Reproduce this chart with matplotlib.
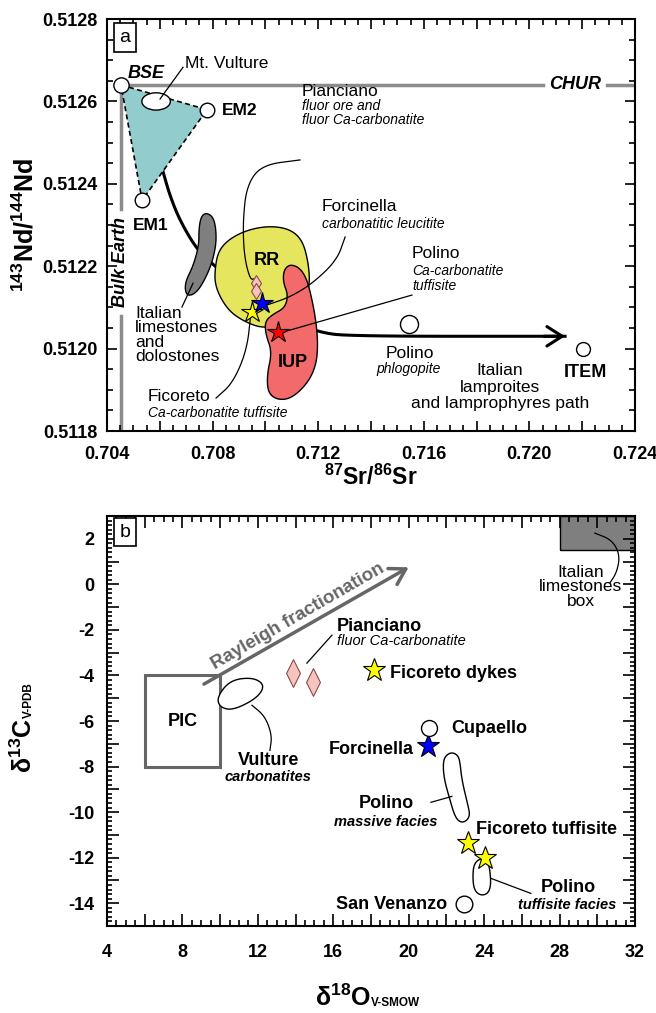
import numpy as np
import matplotlib.pyplot as plt
from matplotlib.patches import Polygon, Rectangle, Ellipse
from matplotlib.ticker import MultipleLocator

plt.rcParams['font.family'] = ['Liberation Sans', 'DejaVu Sans']
plt.rcParams['mathtext.fontset'] = 'custom'
plt.rcParams['mathtext.rm'] = 'Liberation Sans'
plt.rcParams['mathtext.bf'] = 'Liberation Sans:bold'
plt.rcParams['mathtext.it'] = 'Liberation Sans:italic'

# ---------------- (a) Sr-Nd isotopes ----------------
bse = (0.70453, 0.51264)
em1 = (0.70533, 0.51236)
em2 = (0.70779, 0.51258)
chur_nd = 0.51264
bulk_earth_sr = 0.70453
mt_vulture = (0.70586, 0.51260)
polino_phl = (0.71544, 0.51206)
item = (0.72203, 0.51200)

pianciano_sr = [0.70964, 0.70964]
pianciano_nd = [0.51216, 0.51214]
ficoreto_a = (0.70949, 0.51209)
forcinella_a = (0.70987, 0.51211)
polino_a = (0.71048, 0.51204)

limest_sr = [0.70775, 0.70802, 0.70813, 0.70813, 0.70794, 0.70756, 0.70726,
             0.70699, 0.70695, 0.70726, 0.70748, 0.70748, 0.70756]
limest_nd = [0.51233, 0.51232, 0.51229, 0.51225, 0.51220, 0.51215, 0.51213,
             0.51213, 0.51216, 0.51220, 0.51225, 0.51229, 0.51232]

rr_sr = [0.70809, 0.70820, 0.70858, 0.70930, 0.71017, 0.71093, 0.71139, 0.71161,
         0.71169, 0.71150, 0.71112, 0.71048, 0.70987, 0.70923, 0.70866, 0.70828, 0.70809]
rr_nd = [0.512191, 0.512234, 0.512264, 0.512288, 0.512298, 0.512290, 0.512264, 0.512215,
         0.512159, 0.512118, 0.512082, 0.512057, 0.512050, 0.512065, 0.512089, 0.512125, 0.512159]

iup_sr = [0.71093, 0.71131, 0.71158, 0.71177, 0.71192, 0.71199, 0.71192, 0.71161, 0.71101,
          0.71048, 0.71010, 0.71006, 0.71025, 0.71002, 0.70998, 0.71025, 0.71074, 0.71086,
          0.71067, 0.71070]
iup_nd = [0.512205, 0.512196, 0.512167, 0.512118, 0.512065, 0.512009, 0.511960, 0.511917,
          0.511880, 0.511875, 0.511892, 0.511936, 0.511992, 0.512033, 0.512065, 0.512082,
          0.512099, 0.512130, 0.512162, 0.512191]

# mantle -> lamproite trend
mix_sr = [0.70597, 0.70612, 0.70639, 0.70677, 0.70741, 0.70809, 0.70904, 0.70998,
          0.71093, 0.71199, 0.71320, 0.72135]
mix_nd = [0.51250, 0.51243, 0.51237, 0.51231, 0.51224, 0.51220, 0.51215, 0.51212,
          0.51207, 0.51204, 0.51203, 0.51203]

sr_ticks = [0.704, 0.706, 0.708, 0.710, 0.712, 0.714, 0.716, 0.718, 0.720, 0.722, 0.724]
nd_ticks = [0.5118, 0.5120, 0.5122, 0.5124, 0.5126, 0.5128]

# ---------------- (b) C-O isotopes ----------------
pic_o = [6, 10]
pic_c = [-8, -4]
limebox_o = [28, 32]
limebox_c = [1.5, 3]
rayleigh_o = [9.14, 20.0]
rayleigh_c = [-4.38, 0.75]

pianciano_o = [13.86, 14.92]
pianciano_c = [-3.9, -4.3]
ficoreto_dyke = (18.16, -3.77)
cupaello = (21.1, -6.32)
forcinella_b = (21.0, -7.1)
fic_tuff_o = [23.14, 24.04]
fic_tuff_c = [-11.37, -12.03]
san_venanzo = (22.93, -14.05)

vulture_o = [9.83, 10.52, 11.74, 12.38, 11.95, 10.68, 9.99]
vulture_c = [-4.96, -4.21, -4.08, -4.43, -5.0, -5.53, -5.40]
pol_mass_o = [21.82, 21.97, 22.29, 22.61, 22.72, 22.82, 23.14, 23.25, 23.04, 22.72,
              22.45, 22.19, 21.87]
pol_mass_c = [-7.81, -7.51, -7.37, -7.51, -7.81, -8.60, -9.70, -10.14, -10.41, -10.45,
              -10.19, -9.48, -8.52]
pol_tuff_o = [23.41, 23.57, 23.88, 24.20, 24.31, 24.36, 24.20, 23.88, 23.57, 23.41]
pol_tuff_c = [-12.47, -12.16, -12.03, -12.21, -12.56, -13.22, -13.57, -13.66, -13.53, -13.18]

o_ticks = list(range(4, 33, 2))
c_ticks = list(range(-15, 4))


def chaikin(xs, ys, n=3, closed=True):
    pts = np.column_stack([xs, ys]).astype(float)
    for _ in range(n):
        if closed:
            p0, p1 = pts, np.roll(pts, -1, axis=0)
        else:
            p0, p1 = pts[:-1], pts[1:]
        q = 0.75 * p0 + 0.25 * p1
        r = 0.25 * p0 + 0.75 * p1
        new = np.empty((2 * len(p0), 2))
        new[0::2] = q
        new[1::2] = r
        pts = new if closed else np.vstack([pts[0], new, pts[-1]])
    return pts


def blob(ax, xs, ys, fc, ec='black', lw=1.0, z=2):
    ax.add_patch(Polygon(chaikin(xs, ys), closed=True, fc=fc, ec=ec, lw=lw, zorder=z))


def leader(ax, xs, ys):
    pts = chaikin(xs, ys, closed=False) if len(xs) > 2 else np.column_stack([xs, ys])
    ax.plot(pts[:, 0], pts[:, 1], color='black', lw=0.9, zorder=4)


def style_axes(ax, major=7, minor=4):
    for s in ax.spines.values():
        s.set_linewidth(1.5)
    ax.tick_params(which='both', direction='in', top=True, right=True, width=1.2,
                   colors='black')
    ax.tick_params(which='major', length=major)
    ax.tick_params(which='minor', length=minor)


fig = plt.figure(figsize=(6.56, 10.13), dpi=100)

# ======================= panel a =======================
ax = fig.add_axes([0.1631, 0.5745, 0.8049, 0.4067])
ax.set_xlim(0.704, 0.724)
ax.set_ylim(0.5118, 0.5128)
style_axes(ax, 7.5, 4)
ax.set_xticks(sr_ticks)
ax.set_xticklabels([f'{v:.3f}' if i % 2 == 0 else '' for i, v in enumerate(sr_ticks)],
                   fontsize=13, fontweight='bold')
ax.xaxis.set_minor_locator(MultipleLocator(0.0005))
ax.set_yticks(nd_ticks)
ax.set_yticklabels([f'{v:.4f}' for v in nd_ticks], fontsize=13, fontweight='bold')
ax.yaxis.set_minor_locator(MultipleLocator(0.00005))
ax.tick_params(axis='x', which='major', pad=11)
ax.tick_params(axis='y', which='major', pad=7)

# reference lines
ax.plot([bse[0], 0.72052], [chur_nd, chur_nd], color='#8c8c8c', lw=2.5, zorder=1)
ax.plot([0.72294, 0.724], [chur_nd, chur_nd], color='#8c8c8c', lw=2.5, zorder=1)
ax.text(0.72173, chur_nd, 'CHUR', ha='center', va='center', fontsize=13,
        fontweight='bold', fontstyle='italic')
ax.plot([bulk_earth_sr, bulk_earth_sr], [bse[1], 0.51234], color='#8c8c8c', lw=2.5, zorder=1)
ax.plot([bulk_earth_sr, bulk_earth_sr], [0.51208, 0.5118], color='#8c8c8c', lw=2.5, zorder=1)
ax.text(bulk_earth_sr, 0.51221, 'Bulk Earth', rotation=90, ha='center', va='center',
        fontsize=13, fontweight='bold', fontstyle='italic')

# mantle triangle
tri = [bse, em2, em1]
ax.add_patch(Polygon(tri, closed=True, fc='#92cccc', ec='none', zorder=1.5))
ax.add_patch(Polygon(tri, closed=True, fill=False, ec='black', lw=1.2, ls=(0, (3, 2)),
                     zorder=1.6))
ax.add_patch(Ellipse(mt_vulture, 0.00108, 0.000042, fc='white', ec='black', lw=1.0, zorder=3))

# trend curve
ax.plot(mix_sr[:2], mix_nd[:2], color='black', lw=2.2, ls=(0, (2.2, 1.6)), zorder=1.2)
mp = chaikin(mix_sr[1:], mix_nd[1:], closed=False)
ax.plot(mp[:, 0], mp[:, 1], color='black', lw=2.2, zorder=1.2)
ax.annotate('', xy=(mix_sr[-1], mix_nd[-1]), xytext=(mix_sr[-1] - 0.0008, mix_nd[-1]),
            arrowprops=dict(arrowstyle='->,head_length=0.55,head_width=0.35', lw=2.2,
                            color='black', mutation_scale=20, shrinkA=0, shrinkB=0),
            zorder=3)

# fields
blob(ax, limest_sr, limest_nd, '#7f7f7f', lw=1.0)
blob(ax, rr_sr, rr_nd, '#e6e65e', lw=1.0)
blob(ax, iup_sr, iup_nd, '#f26a6a', lw=1.0, z=2.2)
ax.text(0.71006, 0.512215, 'RR', ha='center', va='center', fontsize=13, fontweight='bold', zorder=5)
ax.text(0.71105, 0.511967, 'IUP', ha='center', va='center', fontsize=13, fontweight='bold', zorder=5)

# end-member circles
for p, ms in [(bse, 11), (em1, 10.5), (em2, 10.5), (polino_phl, 13), (item, 10)]:
    ax.plot(*p, 'o', ms=ms, mfc='white', mec='black', mew=1.0, zorder=5)

# samples
ax.plot(pianciano_sr, pianciano_nd, 'd', ms=8, mfc='#f5c4be', mec='#8a4a44', mew=0.8, zorder=6)
ax.plot(*ficoreto_a, '*', ms=16, mfc='#ffff00', mec='black', mew=0.8, zorder=6)
ax.plot(*forcinella_a, '*', ms=16, mfc='#0000ff', mec='black', mew=0.8, zorder=6)
ax.plot(*polino_a, '*', ms=16, mfc='#ff0000', mec='black', mew=0.8, zorder=6)

# leaders
leader(ax, [0.70688, 0.70601], [0.512683, 0.512606])
leader(ax, [0.71131, 0.70987, 0.70930, 0.70915, 0.70919, 0.70942, 0.70961],
       [0.512458, 0.512446, 0.512397, 0.512312, 0.512227, 0.512167, 0.51217])
leader(ax, [0.71302, 0.71271, 0.71180, 0.71093, 0.71006],
       [0.512271, 0.512215, 0.512159, 0.512125, 0.512106])
leader(ax, [0.71555, 0.71055], [0.512130, 0.512038])
leader(ax, [0.70813, 0.70877, 0.70930, 0.70945], [0.511880, 0.511917, 0.511997, 0.512086])
leader(ax, [0.70684, 0.70726], [0.512101, 0.512159])

# labels
ax.text(0.70480, 0.512667, 'BSE', fontsize=13, fontweight='bold', fontstyle='italic', va='center')
ax.text(0.70695, 0.512693, 'Mt. Vulture', fontsize=12.5, va='center')
ax.text(0.70836, 0.512579, 'EM2', fontsize=12.5, fontweight='bold', va='center')
ax.text(0.70498, 0.512298, 'EM1', fontsize=12.5, fontweight='bold', va='center')
ax.text(0.71139, 0.512625, 'Pianciano', fontsize=12.5, va='center')
ax.text(0.71139, 0.512589, 'fluor ore and', fontsize=10, fontstyle='italic', va='center')
ax.text(0.71139, 0.512555, 'fluor Ca-carbonatite', fontsize=10, fontstyle='italic', va='center')
ax.text(0.71214, 0.512344, 'Forcinella', fontsize=12.5, va='center')
ax.text(0.71214, 0.512302, 'carbonatitic leucitite', fontsize=10, fontstyle='italic', va='center')
ax.text(0.71555, 0.512230, 'Polino', fontsize=12.5, va='center')
ax.text(0.71555, 0.512188, 'Ca-carbonatite', fontsize=10, fontstyle='italic', va='center')
ax.text(0.71555, 0.512152, 'tuffisite', fontsize=10, fontstyle='italic', va='center')
ax.text(0.71548, 0.511987, 'Polino', fontsize=12.5, ha='center', va='center')
ax.text(0.71544, 0.511950, 'phlogopite', fontsize=10, fontstyle='italic', ha='center', va='center')
for line, nd in zip(['Italian', 'lamproites', 'and lamprophyres path'],
                    [0.511946, 0.511905, 0.511866]):
    ax.text(0.71889, nd, line, fontsize=12.5, ha='center', va='center')
ax.text(0.72211, 0.511943, 'ITEM', fontsize=13, fontweight='bold', ha='center', va='center')
ax.text(0.70555, 0.511885, 'Ficoreto', fontsize=12.5, va='center')
ax.text(0.70555, 0.511844, 'Ca-carbonatite tuffisite', fontsize=10, fontstyle='italic', va='center')
ax.text(0.70506, 0.512033, 'Italian\nlimestones\nand\ndolostones', fontsize=12.5,
        va='center', linespacing=0.95)
ax.text(0.034, 0.956, 'a', transform=ax.transAxes, ha='center', va='center', fontsize=14,
        bbox=dict(boxstyle='square,pad=0.3', fc='white', ec='black', lw=1.2), zorder=6)

ax.text(0.5, -0.131, r'$\mathbf{^{87}Sr/^{86}Sr}$', transform=ax.transAxes,
        fontsize=16.5, ha='center', va='baseline')
ax.text(-0.155, 0.5, r'$\mathbf{^{143}Nd/^{144}Nd}$', transform=ax.transAxes,
        fontsize=18, rotation=90, ha='center', va='center')

# ======================= panel b =======================
bx = fig.add_axes([0.1631, 0.0859, 0.8049, 0.4047])
bx.set_xlim(4, 32)
bx.set_ylim(-15, 3)
style_axes(bx, 8.5, 4.5)
bx.set_xticks(o_ticks)
bx.set_xticklabels([str(v) if v % 4 == 0 else '' for v in o_ticks], fontsize=13, fontweight='bold')
bx.xaxis.set_minor_locator(MultipleLocator(0.5))
bx.set_yticks(c_ticks)
bx.set_yticklabels([str(v) if v % 2 == 0 else '' for v in c_ticks], fontsize=13, fontweight='bold')
bx.yaxis.set_minor_locator(MultipleLocator(0.2))
bx.tick_params(axis='x', which='major', pad=13)
bx.tick_params(axis='y', which='major', pad=9)
bx.tick_params(axis='y', which='minor', length=3.8)

bx.add_patch(Rectangle((pic_o[0], pic_c[0]), pic_o[1] - pic_o[0], pic_c[1] - pic_c[0],
                       fill=False, ec='#666666', lw=2.2, zorder=2))
bx.text(np.mean(pic_o), np.mean(pic_c), 'PIC', fontsize=13, fontweight='bold',
        ha='center', va='center')
bx.add_patch(Rectangle((limebox_o[0], limebox_c[0]), limebox_o[1] - limebox_o[0],
                       limebox_c[1] - limebox_c[0], fc='#7f7f7f', ec='black', lw=1.0, zorder=1))

bx.annotate('', xy=(rayleigh_o[1], rayleigh_c[1]), xytext=(rayleigh_o[0], rayleigh_c[0]),
            arrowprops=dict(arrowstyle='->,head_length=0.5,head_width=0.3', lw=2.5,
                            color='#666666', mutation_scale=22, shrinkA=0, shrinkB=0))
bx.text(14.13, -1.40, 'Rayleigh fractionation', rotation=30, rotation_mode='anchor',
        ha='center', va='center', fontsize=13.5, fontweight='bold', color='#666666')

blob(bx, vulture_o, vulture_c, 'white', z=3)
blob(bx, pol_mass_o, pol_mass_c, 'white', z=3)
blob(bx, pol_tuff_o, pol_tuff_c, 'white', z=3)

thin_diamond = [(0, 1), (0.5, 0), (0, -1), (-0.5, 0), (0, 1)]
bx.plot(pianciano_o, pianciano_c, ls='none', marker=thin_diamond, ms=20, mfc='#f5c4be',
        mec='#8a4a44', mew=0.8, zorder=5)
bx.plot(*ficoreto_dyke, '*', ms=17, mfc='#ffff00', mec='black', mew=0.8, zorder=5)
bx.plot(*forcinella_b, '*', ms=17, mfc='#0000ff', mec='black', mew=0.8, zorder=5)
bx.plot(fic_tuff_o, fic_tuff_c, '*', ls='none', ms=17, mfc='#ffff00', mec='black', mew=0.8, zorder=6)
bx.plot(*cupaello, 'o', ms=11.5, mfc='white', mec='black', mew=1.0, zorder=5)
bx.plot(*san_venanzo, 'o', ms=12, mfc='white', mec='black', mew=1.0, zorder=5)

leader(bx, [11.69, 12.38, 12.75, 12.64], [-5.31, -5.79, -6.63, -7.29])
leader(bx, [14.6, 15.93], [-3.46, -2.23])
leader(bx, [21.18, 22.29], [-9.57, -9.31])
leader(bx, [24.36, 26.48], [-12.91, -13.57])
leader(bx, [29.87, 30.78, 31.2, 31.04, 30.67], [2.25, 1.95, 1.29, 0.54, 0.06])

bx.text(12.59, -7.73, 'Vulture', fontsize=13, fontweight='bold', ha='center', va='center')
bx.text(12.55, -8.47, 'carbonatites', fontsize=10.5, fontweight='bold', fontstyle='italic',
        ha='center', va='center')
bx.text(16.2, -1.84, 'Pianciano', fontsize=13, fontweight='bold', va='center')
bx.text(16.2, -2.49, 'fluor Ca-carbonatite', fontsize=10.5, fontstyle='italic', va='center')
bx.text(19.0, -3.9, 'Ficoreto dykes', fontsize=13, fontweight='bold', va='center')
bx.text(22.24, -6.32, 'Cupaello', fontsize=13, fontweight='bold', va='center')
bx.text(20.28, -7.25, 'Forcinella', fontsize=13, fontweight='bold', ha='right', va='center')
bx.text(18.79, -9.62, 'Polino', fontsize=13, fontweight='bold', ha='center', va='center')
bx.text(18.79, -10.45, 'massive facies', fontsize=10.5, fontweight='bold', fontstyle='italic',
        ha='center', va='center')
bx.text(23.57, -10.76, 'Ficoreto tuffisite', fontsize=13, fontweight='bold', va='center')
bx.text(28.44, -13.31, 'Polino', fontsize=13, fontweight='bold', ha='center', va='center')
bx.text(28.4, -14.1, 'tuffisite facies', fontsize=10.5, fontweight='bold', fontstyle='italic',
        ha='center', va='center')
bx.text(22.03, -14.05, 'San Venanzo', fontsize=13, fontweight='bold', ha='right', va='center')
bx.text(29.13, -0.1, 'Italian\nlimestones\nbox', fontsize=12.5, ha='center', va='center',
        linespacing=0.95)
bx.text(0.034, 0.961, 'b', transform=bx.transAxes, ha='center', va='center', fontsize=14,
        bbox=dict(boxstyle='square,pad=0.3', fc='white', ec='black', lw=1.2), zorder=6)

# axis titles with small subscripts
xl = bx.text(0.447, -0.176, r'$\mathbf{δ^{18}O}$', transform=bx.transAxes, fontsize=18,
             ha='center', va='center')
bx.annotate('V-SMOW', xy=(1.0, 0.08), xycoords=xl, ha='left', va='bottom',
            fontsize=8.5, fontweight='bold')
yl = bx.text(-0.157, 0.441, r'$\mathbf{δ^{13}C}$', transform=bx.transAxes, fontsize=18,
             rotation=90, ha='center', va='center')
bx.annotate('V-PDB', xy=(0.92, 1.0), xycoords=yl, ha='right', va='bottom',
            fontsize=8.5, fontweight='bold', rotation=90)

fig.savefig('out.png', dpi=100)
